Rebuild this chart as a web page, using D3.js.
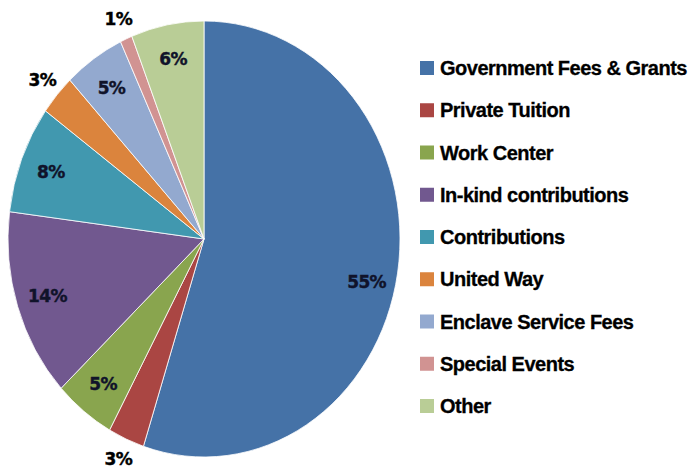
<!DOCTYPE html>
<html>
<head>
<meta charset="utf-8">
<script src="https://cdn.jsdelivr.net/npm/d3@7"></script>
<style>
  html, body { margin: 0; padding: 0; background: #fff; }
  svg { display: block; }
</style>
</head>
<body>
<svg id="chart" width="691" height="474"></svg>
<script>
const categories = ["Government Fees & Grants", "Private Tuition", "Work Center", "In-kind contributions",
  "Contributions", "United Way", "Enclave Service Fees", "Special Events", "Other"];
const values = [55, 3, 5, 14, 8, 3, 5, 1, 6];
const labels = ["55%", "3%", "5%", "14%", "8%", "3%", "5%", "1%", "6%"];
const colors = ["#4572A7", "#AA4643", "#89A54E", "#71588F", "#4198AF", "#DB843D", "#93A9CF", "#D19392", "#B9CD96"];

const svg = d3.select("#chart");
const cx = 204, cy = 239, rx = 196, ry = 218;
const sy = ry / rx;

const pie = d3.pie().value(d => d).sort(null);
const arcs = pie(values);
const arc = d3.arc().innerRadius(0).outerRadius(rx);

const g = svg.append("g").attr("transform", `translate(${cx},${cy})`);
g.selectAll("path").data(arcs).enter().append("path")
  .attr("d", arc)
  .attr("transform", `scale(1,${sy})`)
  .attr("fill", (d, i) => colors[i])
  .attr("stroke", "#ffffff")
  .attr("stroke-width", 0.8)
  .attr("vector-effect", "non-scaling-stroke");

function labelPos(d) {
  const a = (d.startAngle + d.endAngle) / 2;
  const f = (d.value <= 3) ? 1.1 : 0.84;
  return [Math.sin(a) * rx * f, -Math.cos(a) * ry * f];
}

g.selectAll("text.lbl").data(arcs).enter().append("text")
  .attr("class", "lbl")
  .attr("x", d => labelPos(d)[0])
  .attr("y", d => labelPos(d)[1] + (d.index === 0 ? 14 : 0))
  .attr("text-anchor", "middle")
  .attr("dominant-baseline", "central")
  .attr("font-family", "'DejaVu Sans', sans-serif")
  .attr("font-weight", "bold")
  .attr("font-size", 17)
  .attr("letter-spacing", -0.6)
  .attr("fill", (d, i) => d.value <= 3 ? "#000000" : "#10132a")
  .attr("stroke", (d, i) => d.value <= 3 ? "#000000" : "#10132a")
  .attr("stroke-width", 0.4)
  .text((d, i) => labels[i]);

// legend
const legend = svg.append("g");
const ly = d3.scalePoint().domain(categories).range([68, 406]);
const rows = legend.selectAll("g").data(categories).enter().append("g")
  .attr("transform", d => `translate(420,${ly(d)})`);
rows.append("rect")
  .attr("x", 0).attr("y", -7).attr("width", 14).attr("height", 14)
  .attr("fill", (d, i) => colors[i]);
rows.append("text")
  .attr("x", 20).attr("y", 0)
  .attr("dominant-baseline", "central")
  .attr("font-family", "'Liberation Sans Narrow', 'Arial Narrow', sans-serif")
  .attr("font-stretch", "condensed")
  .attr("font-weight", "bold")
  .attr("font-size", 20)
  .attr("letter-spacing", -0.5)
  .attr("fill", "#000")
  .attr("stroke", "#000")
  .attr("stroke-width", 0.3)
  .text(d => d);
</script>
</body>
</html>
